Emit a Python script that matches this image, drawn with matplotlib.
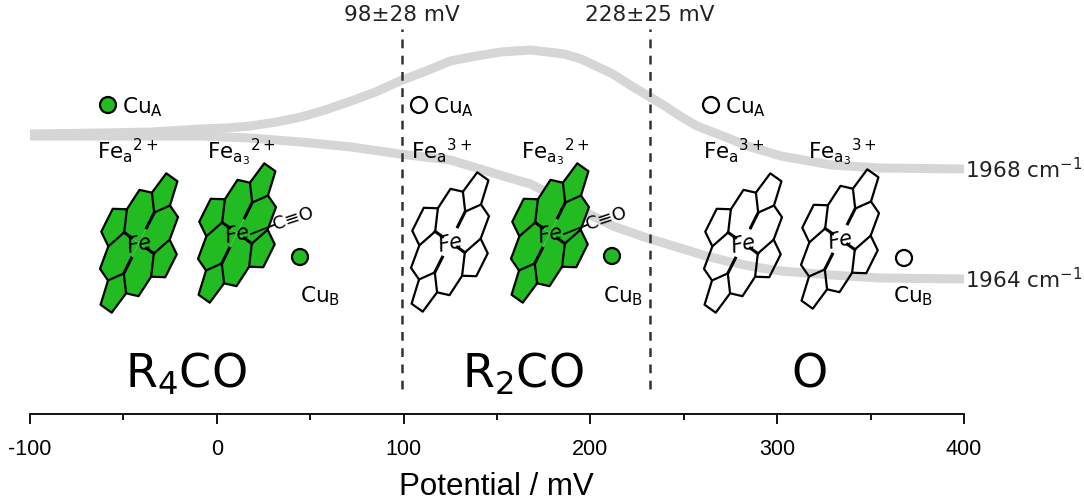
import numpy as np
import matplotlib.pyplot as plt
from matplotlib.patches import Polygon, Circle

plt.rcParams['font.family'] = ['DejaVu Sans']
plt.rcParams['mathtext.default'] = 'regular'
plt.rcParams['axes.unicode_minus'] = False

# IR band position traces (arbitrary vertical units) vs potential
potential_1968 = [-100, -62, -35, -9, 5, 18, 32, 45, 58, 72, 85, 98, 112, 125, 139, 152,
                  168, 186, 195, 212, 222, 232, 239, 248, 257, 275, 284, 302, 329, 355, 400]
band_1968 = [280, 281, 282, 285, 286, 288, 292, 297, 304, 313, 322, 333, 343, 353, 358, 362,
             364, 360, 355, 340, 328, 317, 309, 298, 288, 275, 268, 258, 249, 246, 245]
potential_1964 = [-100, -62, -35, -9, 18, 45, 72, 98, 125, 141, 155, 168, 195, 212, 232,
                  241, 248, 262, 275, 288, 302, 329, 355, 400]
band_1964 = [278, 278, 278, 278, 276, 272, 267, 260, 254, 245, 237, 230, 204, 188, 175,
             170, 166, 158, 152, 147, 143, 139, 136, 135]

midpoints = [99, 232]
midpoint_labels = ['98±28 mV', '228±25 mV']
states = ['R$_4$CO', 'R$_2$CO', 'O']
ticks_major = [-100, 0, 100, 200, 300, 400]

GREEN = '#22bb22'
GREY = '#d6d6d6'

fig = plt.figure(figsize=(10.84, 5.02), dpi=100)
ax = fig.add_axes([30 / 1084, 87 / 502, 934 / 1084, 415 / 502])
ax.set_xlim(-100, 400)
ax.set_ylim(0, 415)
ax.patch.set_alpha(0)
for s in ['top', 'left', 'right']:
    ax.spines[s].set_visible(False)
ax.spines['bottom'].set_linewidth(1.3)
ax.set_yticks([])
ax.set_xticks(ticks_major)
ax.set_xticks([-50, 50, 150, 250, 350], minor=True)
ax.tick_params(axis='x', which='major', length=7, width=1.3, pad=10,
               labelsize=15.5, labelfontfamily='Liberation Sans')
ax.tick_params(axis='x', which='minor', length=4, width=1.3)
ax.set_xlabel('Potential / mV', fontsize=22.5, family='Liberation Sans')
ax.xaxis.label.set_va('center')
ax.xaxis.set_label_coords(0.499, -0.1735)

ax.plot(potential_1968, band_1968, color=GREY, lw=6.5, solid_capstyle='butt',
        solid_joinstyle='round')
ax.plot(potential_1964, band_1964, color=GREY, lw=6.5, solid_capstyle='butt',
        solid_joinstyle='round')
ax.vlines(midpoints, 25, 385, colors='#333333', linestyles=(0, (3.5, 3)), lw=1.8)
for xm, lab in zip(midpoints, midpoint_labels):
    ax.text(xm, 400, lab, ha='center', va='center', fontsize=15.5, color='#222222')

ax.text(400.8, band_1968[-1], '1968 cm$^{-1}$', ha='left', va='center', fontsize=15.5,
        color='#222222', clip_on=False)
ax.text(400.8, band_1964[-1], '1964 cm$^{-1}$', ha='left', va='center', fontsize=15.5,
        color='#222222', clip_on=False)

# overlay in pixel coordinates for the schematic drawings
ov = fig.add_axes([0, 0, 1, 1])
ov.set_xlim(0, 1084)
ov.set_ylim(502, 0)
ov.axis('off')
ov.patch.set_alpha(0)


def porphyrin(cx, cy, green, co=False):
    e1 = np.array([7.6, 5.4])
    e2 = np.array([7.8, -15.6])
    ctr = np.array([cx, cy])

    def tf(p):
        return ctr + p[0] * e1 + p[1] * e2

    rn, rp = 1.95, 1.25
    pyr = []
    for k in range(4):
        th = k * np.pi / 2
        c = (rn + rp) * np.array([np.cos(th), np.sin(th)])
        vs = [c + rp * np.array([np.cos(th + np.pi + a), np.sin(th + np.pi + a)])
              for a in np.radians([0, 72, 144, 216, 288])]
        pyr.append(vs)
    meso = []
    for k in range(4):
        a2 = pyr[k][4]
        a1 = pyr[(k + 1) % 4][1]
        th = k * np.pi / 2 + np.pi / 4
        meso.append((a2 + a1) / 2 + 0.75 * np.array([np.cos(th), np.sin(th)]))
    lw = 1.6
    if green:
        for k in range(4):
            ring = [np.zeros(2), pyr[k][0], pyr[k][4], meso[k],
                    pyr[(k + 1) % 4][1], pyr[(k + 1) % 4][0]]
            ov.add_patch(Polygon([tf(p) for p in ring], closed=True, fc=GREEN,
                                 ec='none', zorder=3))
    for k in range(4):
        ov.add_patch(Polygon([tf(p) for p in pyr[k]], closed=True,
                             fc=GREEN if green else 'none', ec='black', lw=lw,
                             joinstyle='round', zorder=4))
        a2 = tf(pyr[k][4])
        m = tf(meso[k])
        a1 = tf(pyr[(k + 1) % 4][1])
        ov.plot([a2[0], m[0], a1[0]], [a2[1], m[1], a1[1]], color='black', lw=lw,
                solid_joinstyle='round', zorder=4)
        n = tf(pyr[k][0])
        st = ctr + 0.5 * (n - ctr)
        ov.plot([st[0], n[0]], [st[1], n[1]], color='black', lw=2.2, zorder=4)
    ov.text(cx, cy + 1, 'Fe', rotation=12, ha='center', va='center', fontsize=15,
            style='italic', zorder=5)
    if co:
        ov.plot([cx + 14, cx + 37], [cy + 1, cy - 8], color='black', lw=1.3, zorder=5)
        ov.text(cx + 56, cy - 15, 'C≡O', rotation=18, ha='center', va='center',
                fontsize=13, zorder=5)


def cu(x, y, filled):
    ov.add_patch(Circle((x, y), 8, fc=GREEN if filled else 'white', ec='black',
                        lw=1.6, zorder=5))


# R4CO state
cu(108, 106, True)
ov.text(122, 113, 'Cu$_A$', fontsize=15.5, va='baseline')
ov.text(97, 159, 'Fe$_a$$^{2+}$', fontsize=15.5, va='baseline')
ov.text(207, 159, 'Fe$_{a_3}$$^{2+}$', fontsize=15.5, va='baseline')
porphyrin(139, 244, True)
porphyrin(237, 234, True, co=True)
cu(300, 258, True)
ov.text(300, 302, 'Cu$_B$', fontsize=15.5, va='baseline')

# R2CO state
cu(419, 106, False)
ov.text(433, 113, 'Cu$_A$', fontsize=15.5, va='baseline')
ov.text(411, 159, 'Fe$_a$$^{3+}$', fontsize=15.5, va='baseline')
ov.text(521, 159, 'Fe$_{a_3}$$^{2+}$', fontsize=15.5, va='baseline')
porphyrin(450, 243, False)
porphyrin(550, 234, True, co=True)
cu(612, 257, True)
ov.text(603, 302, 'Cu$_B$', fontsize=15.5, va='baseline')

# O state
cu(711, 106, False)
ov.text(725, 113, 'Cu$_A$', fontsize=15.5, va='baseline')
ov.text(703, 159, 'Fe$_a$$^{3+}$', fontsize=15.5, va='baseline')
ov.text(808, 159, 'Fe$_{a_3}$$^{3+}$', fontsize=15.5, va='baseline')
porphyrin(743, 244, False)
porphyrin(840, 240, False)
cu(904, 259, False)
ov.text(893, 302, 'Cu$_B$', fontsize=15.5, va='baseline')

for lab, xc in zip(states, [186, 523, 810]):
    ov.text(xc, 388, lab, ha='center', va='baseline', fontsize=33)

fig.savefig('out.png', dpi=100)
